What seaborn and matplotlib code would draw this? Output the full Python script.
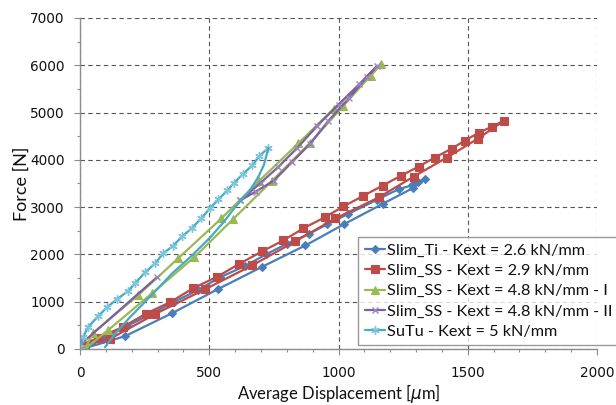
import numpy as np
import pandas as pd
import seaborn as sns
import matplotlib
matplotlib.use("Agg")
import matplotlib.pyplot as plt
from matplotlib.ticker import MultipleLocator

# ---------------- data ----------------
series_labels = [
    "Slim_Ti - Kext = 2.6 kN/mm",
    "Slim_SS - Kext = 2.9 kN/mm",
    "Slim_SS - Kext = 4.8 kN/mm - I",
    "Slim_SS - Kext = 4.8 kN/mm - II",
    "SuTu - Kext = 5 kN/mm",
]

ti_x = [20, 174, 357, 535, 705, 872, 1020, 1171, 1287, 1333,
        1306, 1283, 1233, 1150, 1035, 957, 884, 802, 721, 640, 543, 457, 365, 275, 180, 89, 20]
ti_y = [20, 270, 760, 1270, 1740, 2190, 2635, 3070, 3400, 3590,
        3540, 3460, 3380, 3160, 2850, 2640, 2430, 2230, 2005, 1760, 1520, 1250, 1000, 740, 480, 220, 20]

ss29_x = [0, 116, 291, 484, 667, 833, 988, 1155, 1291, 1419, 1539, 1640,
          1593, 1543, 1488, 1438, 1372, 1310, 1240, 1171, 1095, 1019, 946, 864, 787,
          705, 616, 531, 438, 349, 256, 167, 70, 0]
ss29_y = [84, 215, 740, 1265, 1770, 2277, 2761, 3204, 3647, 4048, 4448, 4827,
          4701, 4574, 4406, 4237, 4048, 3858, 3660, 3457, 3236, 3015, 2783, 2551, 2298,
          2066, 1800, 1530, 1286, 991, 750, 470, 232, 84]

ss48a_x = [19, 109, 279, 442, 593, 744, 891, 1019, 1165,
           1124, 981, 845, 694, 547, 380, 225, 50, 19]
ss48a_y = [0, 400, 1180, 1940, 2750, 3563, 4364, 5143, 6030,
           5776, 5080, 4350, 3560, 2761, 1918, 1138, 337, 0]

ss48b_start_x = [5, 298]
ss48b_start_y = [110, 1520]
ss48b_loop_x = [620, 700, 767, 840, 918, 1000, 1080, 1150,
                1110, 1040, 960, 891, 820, 750, 680, 620]
ss48b_loop_y = [3141, 3520, 3850, 4250, 4720, 5170, 5600, 5990,
                5750, 5300, 4820, 4343, 3950, 3560, 3330, 3141]

sutu_load_x = [0, 12, 31, 70, 105, 143, 186, 213, 252, 291, 322, 360, 395, 434,
               469, 504, 535, 570, 597, 632, 667, 694, 729]
sutu_load_y = [40, 253, 464, 690, 885, 1054, 1223, 1391, 1620, 1813, 2024, 2180, 2380,
               2560, 2765, 2980, 3162, 3352, 3520, 3710, 3885, 4080, 4258]
sutu_unload_x = [729, 712, 690, 660, 628, 600, 555, 504, 430, 357, 275, 194, 140, 97]
sutu_unload_y = [4258, 3900, 3640, 3380, 3170, 3000, 2680, 2361, 1960, 1602, 1130, 675, 350, 42]

colors = ["#4A7EBB", "#BE4B48", "#98B954", "#7D60A0", "#46AAC5"]

# ---------------- figure ----------------
sns.set_style("white")
plt.rcParams["font.family"] = ["DejaVu Sans"]
fig = plt.figure(figsize=(6.16, 4.05), dpi=100)
ax = fig.add_axes([80 / 616, (405 - 349) / 405, 517 / 616, 331 / 405])

lw = 1.6


def draw(x, y, color, marker, ms, label=None, mew=0.8, mec=None, mfc=None):
    sns.lineplot(x=x, y=y, sort=False, estimator=None, ax=ax, color=color,
                 linewidth=lw, marker=marker, markersize=ms,
                 markeredgecolor=mec if mec else color,
                 markerfacecolor=mfc if mfc else color,
                 markeredgewidth=mew, label=label, legend=False)


draw(ti_x, ti_y, colors[0], "D", 3.6, series_labels[0])
draw(ss29_x, ss29_y, colors[1], "s", 5.8, series_labels[1])
draw(ss48a_x, ss48a_y, colors[2], "^", 6.0, series_labels[2])
draw(ss48b_start_x, ss48b_start_y, colors[3], "x", 5.0, series_labels[3], mew=1.0, mec="#9c86bd")
draw(ss48b_loop_x, ss48b_loop_y, colors[3], "x", 5.0, None, mew=1.0, mec="#9c86bd")
draw(sutu_load_x, sutu_load_y, colors[4], (6, 2, 0), 6.0, series_labels[4], mew=1.0, mec="#7cc5da")
draw(sutu_unload_x, sutu_unload_y, colors[4], "None", 0, None)

ax.set_xlim(0, 2000)
ax.set_ylim(0, 7000)
ax.xaxis.set_major_locator(MultipleLocator(500))
ax.xaxis.set_minor_locator(MultipleLocator(100))
ax.yaxis.set_major_locator(MultipleLocator(1000))
ax.yaxis.set_minor_locator(MultipleLocator(500))

ax.grid(True, which="major", color="#555555", linestyle=(0, (4, 3)), linewidth=0.8)
ax.set_axisbelow(True)
for s in ["top", "right"]:
    ax.spines[s].set_visible(False)
for s in ["left", "bottom"]:
    ax.spines[s].set_color("#8c8c8c")
    ax.spines[s].set_linewidth(1.0)

ax.tick_params(axis="both", which="major", direction="out", length=4, width=0.8,
               color="#8c8c8c", labelsize=9.8, labelcolor="#111111")
ax.tick_params(axis="both", which="minor", direction="out", length=2.5, width=0.8,
               color="#8c8c8c")
ax.tick_params(axis="x", which="major", pad=8)
ax.tick_params(axis="y", which="major", pad=7)
ax.tick_params(bottom=True, left=True, which="both")

ax.set_xlabel("Average Displacement [$\\mu$m]", family=["Lato", "DejaVu Sans"],
              fontsize=12, color="#111111")
ax.set_ylabel("Force [N]", family=["Lato", "DejaVu Sans"], fontsize=13, color="#111111")
ax.xaxis.set_label_coords(0.5, -0.133)
ax.xaxis.label.set_va("center")
ax.yaxis.set_label_coords(-0.112, 0.5)
ax.yaxis.label.set_va("center")

handles, labels = ax.get_legend_handles_labels()
leg = ax.legend(handles, labels, loc="upper left",
                bbox_to_anchor=(358 / 616, (405 - 237) / 405),
                bbox_transform=fig.transFigure, borderaxespad=0,
                frameon=True, fancybox=False, edgecolor="#808080",
                prop={"family": ["Lato", "DejaVu Sans"], "size": 11.7},
                handlelength=1.25, handletextpad=0.15, labelspacing=0.36,
                borderpad=0.4)
leg.get_frame().set_linewidth(1.0)
for t in leg.get_texts():
    t.set_color("#111111")

fig.savefig("out.png", dpi=100)
